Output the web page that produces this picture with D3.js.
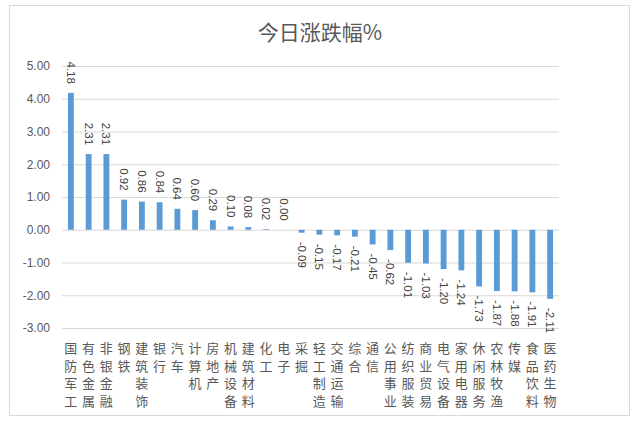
<!DOCTYPE html>
<html>
<head>
<meta charset="utf-8">
<script src="https://cdn.jsdelivr.net/npm/d3@7"></script>
<style>
  body { margin: 0; background: #fff; }
  svg { display: block; }
</style>
</head>
<body>
<div id="chart"></div>
<script>
"use strict";

var categories = ["国防军工", "有色金属", "非银金融", "钢铁", "建筑装饰", "银行", "汽车",
    "计算机", "房地产", "机械设备", "建筑材料", "化工", "电子", "采掘", "轻工制造",
    "交通运输", "综合", "通信", "公用事业", "纺织服装", "商业贸易", "电气设备",
    "家用电器", "休闲服务", "农林牧渔", "传媒", "食品饮料", "医药生物"];
var values = [4.18, 2.31, 2.31, 0.92, 0.86, 0.84, 0.64, 0.60, 0.29, 0.10, 0.08, 0.02,
    0.00, -0.09, -0.15, -0.17, -0.21, -0.45, -0.62, -1.01, -1.03, -1.20, -1.24,
    -1.73, -1.87, -1.88, -1.91, -2.11];
var yTicks = [5, 4, 3, 2, 1, 0, -1, -2, -3];
var title = "今日涨跌幅%";

var width = 640, height = 422;
var plotLeft = 62, plotRight = 559, plotTop = 66, plotBottom = 328; // plot area

var data = categories.map(function(c, i) {
    return { "name": c, "value": values[i] };
});

// plain hyphen as minus sign, like the spreadsheet output
var fmt = d3.formatLocale({
    "decimal": ".", "thousands": ",", "grouping": [3],
    "currency": ["", ""], "minus": "-"
}).format(".2f");

var svg = d3.select("#chart")
    .append("svg")
    .attr("width", width)
    .attr("height", height);

// outer frame
svg.append("rect")
    .attr("x", 9.5)
    .attr("y", 5.5)
    .attr("width", 620)
    .attr("height", 410)
    .attr("fill", "#fff")
    .attr("stroke", "#d9d9d9");

svg.append("text")
    .attr("x", 320)
    .attr("y", 40)
    .attr("text-anchor", "middle")
    .attr("font-family", "'Noto Sans CJK SC', sans-serif")
    .attr("font-size", 21)
    .attr("fill", "#595959")
    .text(title);

var x = d3.scaleBand()
    .domain(categories)
    .range([plotLeft, plotRight])
    .padding(0);

var y = d3.scaleLinear()
    .domain([-3, 5])
    .range([plotBottom, plotTop]);

// gridlines + tick labels
var yAxis = d3.axisLeft(y)
    .tickValues(yTicks)
    .tickSize(-(plotRight - plotLeft))
    .tickPadding(12)
    .tickFormat(fmt);

var gy = svg.append("g")
    .attr("transform", "translate(" + plotLeft + ",0)")
    .call(yAxis);
gy.select(".domain").remove();
gy.selectAll("line").attr("stroke", "#d9d9d9");
gy.selectAll("text")
    .attr("font-family", "'Liberation Sans', sans-serif")
    .attr("font-size", 12)
    .attr("fill", "#595959");

// bars
var barW = x.bandwidth() * 0.33;
svg.selectAll("rect.bar")
    .data(data)
    .enter()
    .append("rect")
    .attr("class", "bar")
    .attr("x", function(d) { return x(d.name) + (x.bandwidth() - barW) / 2; })
    .attr("y", function(d) { return y(Math.max(0, d.value)); })
    .attr("width", barW)
    .attr("height", function(d) { return Math.abs(y(d.value) - y(0)); })
    .attr("fill", "#5b9bd5");

// value labels, rotated 90deg
svg.selectAll("text.val")
    .data(data)
    .enter()
    .append("text")
    .attr("class", "val")
    .attr("transform", function(d) {
        var cx = x(d.name) + x.bandwidth() / 2;
        var yy = d.value >= 0 ? y(d.value) - 9 : y(d.value) + 9;
        return "translate(" + cx + "," + yy + ") rotate(90)";
    })
    .attr("text-anchor", function(d) { return d.value >= 0 ? "end" : "start"; })
    .attr("dy", "0.35em")
    .attr("font-family", "'Liberation Sans', sans-serif")
    .attr("font-size", 11.5)
    .attr("fill", "#404040")
    .text(function(d) { return fmt(d.value); });

// category labels, one character per line
var cat = svg.selectAll("text.cat")
    .data(data)
    .enter()
    .append("text")
    .attr("class", "cat")
    .attr("text-anchor", "middle")
    .attr("font-family", "'Noto Sans CJK SC', sans-serif")
    .attr("font-size", 13)
    .attr("fill", "#595959");

cat.each(function(d) {
    var t = d3.select(this);
    var cx = x(d.name) + x.bandwidth() / 2;
    d.name.split("").forEach(function(ch, k) {
        t.append("tspan")
            .attr("x", cx)
            .attr("y", 353 + k * 17.5)
            .text(ch);
    });
});
</script>
</body>
</html>
